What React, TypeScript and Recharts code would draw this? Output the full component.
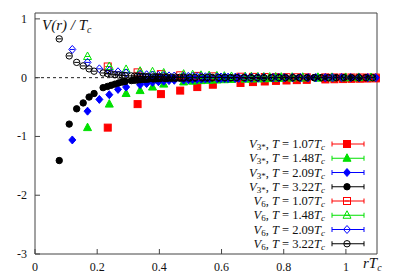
import { ScatterChart, Scatter, XAxis, YAxis, ReferenceLine } from "recharts";

// rTc positions and V(r)/Tc values
const r107 = [0.234, 0.330, 0.405, 0.467, 0.522, 0.572, 0.661, 0.701, 0.739, 0.775, 0.809, 0.842, 0.874, 0.934, 0.963, 0.991, 1.018, 1.045, 1.070, 1.096];
const v3_107 = [-0.85, -0.45, -0.28, -0.22, -0.16, -0.12, -0.09, -0.075, -0.065, -0.055, -0.048, -0.042, -0.037, -0.03, -0.027, -0.024, -0.02, -0.018, -0.015, -0.013];
const v6_107 = [0.19, 0.09, 0.06, 0.04, 0.03, 0.022, 0.016, 0.013, 0.011, 0.009, 0.008, 0.007, 0.006, 0.005, 0.004, 0.004, 0.003, 0.003, 0.002, 0.002];

const r148 = [0.169, 0.239, 0.293, 0.338, 0.378, 0.414, 0.478, 0.507, 0.534, 0.560, 0.585, 0.609, 0.632, 0.676, 0.696, 0.717, 0.736, 0.755, 0.774, 0.792, 0.827, 0.861, 0.910, 0.955, 0.999, 1.041, 1.081];
const v3_148 = [-0.85, -0.45, -0.27, -0.22, -0.16, -0.11, -0.073, -0.06, -0.05, -0.045, -0.04, -0.035, -0.03, -0.025, -0.022, -0.02, -0.018, -0.016, -0.014, -0.012, -0.01, -0.009, -0.008, -0.007, -0.006, -0.005, -0.004];
const v6_148 = [0.36, 0.19, 0.14, 0.11, 0.10, 0.08, 0.06, 0.05, 0.04, 0.035, 0.03, 0.025, 0.02, 0.018, 0.016, 0.014, 0.012, 0.01, 0.01, 0.009, 0.008, 0.007, 0.006, 0.005, 0.004, 0.004, 0.003];

const r209 = [0.120, 0.169, 0.207, 0.239, 0.267, 0.293, 0.338, 0.359, 0.378, 0.397, 0.414, 0.431, 0.448, 0.478, 0.493, 0.507, 0.521, 0.535, 0.548, 0.561, 0.586, 0.598, 0.610, 0.621, 0.644, 0.655, 0.677, 0.697, 0.718, 0.737, 0.766, 0.784, 0.802, 0.829, 0.854, 0.879, 0.903, 0.934, 0.957, 0.986, 1.015, 1.043, 1.070, 1.096];
const v3_209 = [-1.06, -0.57, -0.37, -0.29, -0.2, -0.16, -0.12, -0.10, -0.08, -0.07, -0.06, -0.05, -0.045, -0.04, -0.035, -0.03, -0.028, -0.025, -0.022, -0.02, -0.018, -0.016, -0.015, -0.014, -0.012, -0.011, -0.01, -0.009, -0.008, -0.007, -0.006, -0.006, -0.005, -0.005, -0.004, -0.004, -0.003, -0.003, -0.003, -0.002, -0.002, -0.002, -0.002, -0.002];
const v6_209 = [0.48, 0.26, 0.15, 0.12, 0.10, 0.08, 0.06, 0.05, 0.045, 0.04, 0.035, 0.03, 0.028, 0.025, 0.022, 0.02, 0.018, 0.016, 0.015, 0.014, 0.012, 0.011, 0.01, 0.009, 0.008, 0.007, 0.006, 0.006, 0.005, 0.005, 0.004, 0.004, 0.003, 0.003, 0.003, 0.002, 0.002, 0.002, 0.002, 0.002, 0.001, 0.001, 0.001, 0.001];

const r322 = [0.078, 0.110, 0.134, 0.155, 0.174, 0.190, 0.219, 0.233, 0.245, 0.257, 0.269, 0.280, 0.290, 0.310, 0.320, 0.329, 0.338, 0.347, 0.356, 0.364, 0.380, 0.388, 0.396, 0.403, 0.418, 0.425, 0.439, 0.452, 0.466, 0.478, 0.497, 0.515, 0.538, 0.554, 0.570, 0.591, 0.611, 0.630, 0.649, 0.672, 0.694, 0.715, 0.736, 0.760, 0.784, 0.806, 0.829, 0.850, 0.875, 0.898, 0.921, 0.944, 0.969, 0.994, 1.018, 1.041, 1.064, 1.086];
const v3_322 = [-1.41, -0.79, -0.53, -0.43, -0.33, -0.27, -0.17, -0.15, -0.13, -0.11, -0.09, -0.075, -0.065, -0.05, -0.045, -0.04, -0.035, -0.03, -0.028, -0.025, -0.022, -0.02, -0.018, -0.016, -0.014, -0.013, -0.012, -0.011, -0.01, -0.009, -0.008, -0.007, -0.006, -0.006, -0.005, -0.005, -0.004, -0.004, -0.004, -0.003, -0.003, -0.003, -0.003, -0.002, -0.002, -0.002, -0.002, -0.002, -0.002, -0.002, -0.001, -0.001, -0.001, -0.001, -0.001, -0.001, -0.001, -0.001];
const v6_322 = [0.66, 0.37, 0.26, 0.20, 0.15, 0.11, 0.08, 0.07, 0.06, 0.05, 0.045, 0.04, 0.035, 0.03, 0.027, 0.024, 0.022, 0.02, 0.018, 0.016, 0.014, 0.013, 0.012, 0.011, 0.01, 0.009, 0.008, 0.008, 0.007, 0.007, 0.006, 0.006, 0.005, 0.005, 0.004, 0.004, 0.004, 0.003, 0.003, 0.003, 0.003, 0.002, 0.002, 0.002, 0.002, 0.002, 0.002, 0.001, 0.001, 0.001, 0.001, 0.001, 0.001, 0.001, 0.001, 0.001, 0.001, 0.001];

const temps = ["1.07", "1.48", "2.09", "3.22"];
const xTicks = [0, 0.2, 0.4, 0.6, 0.8, 1];
const yTicks = [-3, -2, -1, 0, 1];

const RED = "#ff0000";
const GREEN = "#00e000";
const BLUE = "#0000ff";
const BLACK = "#000000";
const AXIS = "#444";
const FONT = "'Liberation Serif', 'DejaVu Serif', serif";

const toPoints = (r: number[], v: number[]) => r.map((x, i) => ({ r: x, v: v[i] }));

type Kind = "square" | "triangle" | "diamond" | "circle";

const series = [
  { pot: "3*", t: temps[0], kind: "square" as Kind, open: false, color: RED, data: toPoints(r107, v3_107) },
  { pot: "3*", t: temps[1], kind: "triangle" as Kind, open: false, color: GREEN, data: toPoints(r148, v3_148) },
  { pot: "3*", t: temps[2], kind: "diamond" as Kind, open: false, color: BLUE, data: toPoints(r209, v3_209) },
  { pot: "3*", t: temps[3], kind: "circle" as Kind, open: false, color: BLACK, data: toPoints(r322, v3_322) },
  { pot: "6", t: temps[0], kind: "square" as Kind, open: true, color: RED, data: toPoints(r107, v6_107) },
  { pot: "6", t: temps[1], kind: "triangle" as Kind, open: true, color: GREEN, data: toPoints(r148, v6_148) },
  { pot: "6", t: temps[2], kind: "diamond" as Kind, open: true, color: BLUE, data: toPoints(r209, v6_209) },
  { pot: "6", t: temps[3], kind: "circle" as Kind, open: true, color: BLACK, data: toPoints(r322, v6_322) },
];

const Marker = ({ cx, cy, kind, open, color }: { cx: number; cy: number; kind: Kind; open: boolean; color: string }) => {
  const fill = open ? "none" : color;
  const stroke = color;
  let shape;
  if (kind === "square") {
    shape = <rect x={cx - 3.5} y={cy - 3.5} width={7} height={7} fill={fill} stroke={stroke} strokeWidth={1} />;
  } else if (kind === "triangle") {
    shape = <polygon points={`${cx},${cy - 4.5} ${cx - 4},${cy + 3} ${cx + 4},${cy + 3}`} fill={fill} stroke={stroke} strokeWidth={1} />;
  } else if (kind === "diamond") {
    shape = <polygon points={`${cx},${cy - 4} ${cx + 3.5},${cy} ${cx},${cy + 4} ${cx - 3.5},${cy}`} fill={fill} stroke={stroke} strokeWidth={1} />;
  } else {
    shape = <circle cx={cx} cy={cy} r={3.2} fill={fill} stroke={stroke} strokeWidth={1} />;
  }
  return (
    <g>
      {shape}
      {open && <line x1={cx - 2.5} y1={cy} x2={cx + 2.5} y2={cy} stroke={color} strokeWidth={1} />}
    </g>
  );
};

const fmt = (v: number) => String(v);

const BottomTick = (p: any) => (
  <g>
    <line x1={p.x} y1={p.y} x2={p.x} y2={p.y - 5} stroke={AXIS} />
    <text x={p.x} y={p.y + 17} textAnchor="middle" fontSize={12} fontFamily={FONT} fill="#111">
      {fmt(p.payload.value)}
    </text>
  </g>
);
const TopTick = (p: any) => <line x1={p.x} y1={p.y} x2={p.x} y2={p.y + 5} stroke={AXIS} />;
const LeftTick = (p: any) => (
  <g>
    <line x1={p.x} y1={p.y} x2={p.x + 5} y2={p.y} stroke={AXIS} />
    <text x={p.x - 8} y={p.y + 4} textAnchor="end" fontSize={12} fontFamily={FONT} fill="#111">
      {fmt(p.payload.value)}
    </text>
  </g>
);
const RightTick = (p: any) => <line x1={p.x} y1={p.y} x2={p.x - 5} y2={p.y} stroke={AXIS} />;

const LegendRow = ({ s, y }: { s: (typeof series)[number]; y: number }) => (
  <g>
    <text x={325} y={y + 4} textAnchor="end" fontSize={12.5} fontFamily={FONT} fill="#111">
      <tspan fontStyle="italic">V</tspan>
      <tspan fontSize={9} dy={2}>{s.pot}</tspan>
      <tspan dy={-2}>, </tspan>
      <tspan fontStyle="italic">T</tspan>
      <tspan>{` = ${s.t}`}</tspan>
      <tspan fontStyle="italic">T</tspan>
      <tspan fontSize={9} fontStyle="italic" dy={2}>c</tspan>
    </text>
    <line x1={332} y1={y} x2={364} y2={y} stroke={s.color} strokeWidth={1} />
    <line x1={332} y1={y - 2.5} x2={332} y2={y + 2.5} stroke={s.color} strokeWidth={1} />
    <line x1={364} y1={y - 2.5} x2={364} y2={y + 2.5} stroke={s.color} strokeWidth={1} />
    <Marker cx={347} cy={y} kind={s.kind} open={s.open} color={s.color} />
  </g>
);

export default function App() {
  return (
    <div style={{ position: "absolute", left: 0, top: 0, width: 398, height: 278, background: "#fff" }}>
      <ScatterChart width={398} height={278} margin={{ top: 0, right: 0, bottom: 0, left: 0 }}>
        <XAxis
          type="number"
          dataKey="r"
          domain={[0, 1.1]}
          ticks={xTicks}
          interval={0}
          height={24}
          tickSize={0}
          tickMargin={0}
          tickLine={false}
          tick={BottomTick}
          stroke={AXIS}
        />
        <XAxis
          xAxisId="top"
          orientation="top"
          type="number"
          domain={[0, 1.1]}
          ticks={xTicks}
          interval={0}
          height={13}
          tickSize={0}
          tickMargin={0}
          tickLine={false}
          tick={TopTick}
          stroke={AXIS}
        />
        <YAxis
          type="number"
          dataKey="v"
          domain={[-3, 1.1]}
          ticks={yTicks}
          interval={0}
          width={35}
          tickSize={0}
          tickMargin={0}
          tickLine={false}
          tick={LeftTick}
          stroke={AXIS}
        />
        <YAxis
          yAxisId="right"
          orientation="right"
          type="number"
          domain={[-3, 1.1]}
          ticks={yTicks}
          interval={0}
          width={21}
          tickSize={0}
          tickMargin={0}
          tickLine={false}
          tick={RightTick}
          stroke={AXIS}
        />
        <ReferenceLine y={0} stroke="#222" strokeWidth={1} strokeDasharray="3 3" />
        {series.map((s, i) => (
          <Scatter
            key={i}
            data={s.data}
            isAnimationActive={false}
            shape={(p: any) => <Marker cx={p.cx} cy={p.cy} kind={s.kind} open={s.open} color={s.color} />}
          />
        ))}
      </ScatterChart>
      <svg
        width={398}
        height={278}
        style={{ position: "absolute", left: 0, top: 0, pointerEvents: "none" }}
      >
        <text x={42} y={30} fontSize={15} fontFamily={FONT} fontStyle="italic" fill="#111">
          V(r) / T<tspan fontSize={10} dy={3}>c</tspan>
        </text>
        <text x={363} y={268} fontSize={15} fontFamily={FONT} fontStyle="italic" fill="#111">
          rT<tspan fontSize={10} dy={3}>c</tspan>
        </text>
        {series.map((s, i) => (
          <LegendRow key={i} s={s} y={144 + i * 14.25} />
        ))}
      </svg>
    </div>
  );
}
